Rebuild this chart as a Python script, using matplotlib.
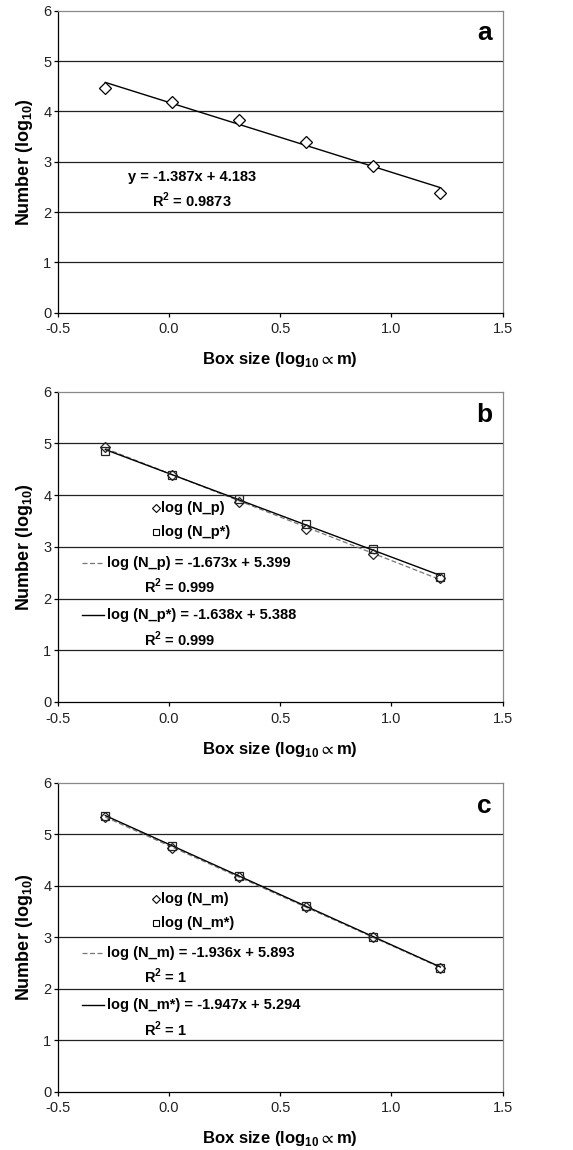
import numpy as np
import matplotlib
matplotlib.use('Agg')
import matplotlib.pyplot as plt
from matplotlib.lines import Line2D

# 字體設置
plt.rcParams['font.family'] = ['Liberation Sans', 'DejaVu Sans']
plt.rcParams['mathtext.fontset'] = 'custom'
plt.rcParams['mathtext.rm'] = 'Liberation Sans'
plt.rcParams['mathtext.bf'] = 'Liberation Sans:bold'
plt.rcParams['mathtext.fallback'] = 'stixsans'

# 數據
box_size = [-0.286, 0.015, 0.316, 0.618, 0.919, 1.220]

n_a = [4.46, 4.19, 3.83, 3.40, 2.92, 2.38]

n_p = [4.94, 4.38, 3.87, 3.35, 2.86, 2.40]
n_p_star = [4.86, 4.39, 3.92, 3.45, 2.95, 2.41]

n_m = [5.34, 4.74, 4.16, 3.58, 3.00, 2.41]
n_m_star = [5.35, 4.78, 4.19, 3.61, 3.01, 2.41]

eq_a = ['y = -1.387x + 4.183', r'R$^{\mathbf{2}}$ = 0.9873']
eq_b = ['log (N_p) = -1.673x + 5.399', r'R$^{\mathbf{2}}$ = 0.999',
        'log (N_p*) = -1.638x + 5.388', r'R$^{\mathbf{2}}$ = 0.999']
leg_b = ['log (N_p)', 'log (N_p*)']
eq_c = ['log (N_m) = -1.936x + 5.893', r'R$^{\mathbf{2}}$ = 1',
        'log (N_m*) = -1.947x + 5.294', r'R$^{\mathbf{2}}$ = 1']
leg_c = ['log (N_m)', 'log (N_m*)']

fig = plt.figure(figsize=(5.73, 11.5), dpi=100)
ax_a = fig.add_axes([0.1007, 0.7281, 0.7766, 0.2626])
ax_b = fig.add_axes([0.1007, 0.3896, 0.7766, 0.2698])
ax_c = fig.add_axes([0.1007, 0.0507, 0.7766, 0.2687])


def style_axes(ax, letter):
    ax.set_xlim(-0.5, 1.5)
    ax.set_ylim(0, 6)
    ax.set_xticks([-0.5, 0.0, 0.5, 1.0, 1.5])
    ax.set_xticklabels(['-0.5', '0.0', '0.5', '1.0', '1.5'])
    ax.set_yticks(range(7))
    for y in range(1, 6):
        ax.axhline(y, color='#222222', lw=0.9, zorder=0)
    ax.spines['left'].set_color('black')
    ax.spines['bottom'].set_color('black')
    ax.spines['top'].set_color('#888888')
    ax.spines['right'].set_color('#888888')
    for s in ax.spines.values():
        s.set_linewidth(0.9)
    ax.tick_params(direction='out', length=3, width=0.9, labelsize=10.5,
                   colors='black', labelcolor='#222222')
    ax.tick_params(axis='y', pad=1.5)
    ax.tick_params(axis='x', pad=4)
    ax.set_xlabel(r'Box size (log$_{\mathbf{10}}\propto$m)', fontsize=12,
                  fontweight='bold', labelpad=10)
    ax.set_ylabel(r'Number (log$_{\mathbf{10}}$)', fontsize=13,
                  fontweight='bold', labelpad=6)
    ax.text(0.959, 0.925, letter, transform=ax.transAxes, fontsize=19,
            fontweight='bold', ha='center', va='center')


def trend(ax, y, **kw):
    x = np.array(box_size)
    k, b = np.polyfit(x, y, 1)
    ax.plot([x[0], x[-1]], [k * x[0] + b, k * x[-1] + b], **kw)


# a
style_axes(ax_a, 'a')
trend(ax_a, n_a, color='black', lw=1.0)
ax_a.plot(box_size, n_a, 'D', ms=5.8, mfc='white', mec='black', mew=0.9)
ax_a.text(0.303, 0.450, eq_a[0], transform=ax_a.transAxes, fontsize=10.5,
          fontweight='bold', ha='center', va='center')
ax_a.text(0.301, 0.373, eq_a[1], transform=ax_a.transAxes, fontsize=10.5,
          fontweight='bold', ha='center', va='center')


def panel(ax, letter, y1, y2, eqs, legs):
    style_axes(ax, letter)
    trend(ax, y1, color='#777777', lw=0.9, ls=(0, (4, 2)))
    trend(ax, y2, color='black', lw=1.0)
    ax.plot(box_size, y1, 'D', ms=5.5, mfc='none', mec='#222222', mew=0.9)
    ax.plot(box_size, y2, 's', ms=6, mfc='none', mec='#222222', mew=0.9)
    # 圖例
    ax.plot([0.220], [0.625], 'D', ms=4, mfc='white', mec='black', mew=0.8,
            transform=ax.transAxes)
    ax.plot([0.220], [0.547], 's', ms=5, mfc='white', mec='black', mew=0.8,
            transform=ax.transAxes)
    ax.text(0.233, 0.625, legs[0], transform=ax.transAxes, fontsize=10.5,
            fontweight='bold', va='center')
    ax.text(0.233, 0.547, legs[1], transform=ax.transAxes, fontsize=10.5,
            fontweight='bold', va='center')
    ax.add_line(Line2D([0.054, 0.103], [0.449, 0.449], color='#777777', lw=0.9,
                       ls=(0, (4, 2)), transform=ax.transAxes))
    ax.add_line(Line2D([0.054, 0.103], [0.280, 0.280], color='black', lw=1.0,
                       transform=ax.transAxes))
    ax.text(0.110, 0.449, eqs[0], transform=ax.transAxes, fontsize=10.5,
            fontweight='bold', va='center')
    ax.text(0.193, 0.372, eqs[1], transform=ax.transAxes, fontsize=10.5,
            fontweight='bold', va='center')
    ax.text(0.110, 0.280, eqs[2], transform=ax.transAxes, fontsize=10.5,
            fontweight='bold', va='center')
    ax.text(0.193, 0.201, eqs[3], transform=ax.transAxes, fontsize=10.5,
            fontweight='bold', va='center')


panel(ax_b, 'b', n_p, n_p_star, eq_b, leg_b)
panel(ax_c, 'c', n_m, n_m_star, eq_c, leg_c)

fig.savefig('out.png', dpi=100)
